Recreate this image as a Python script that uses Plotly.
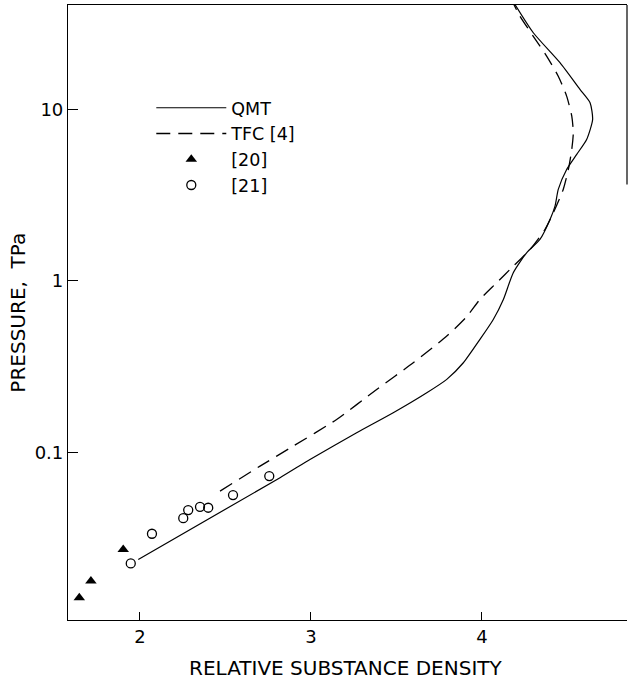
import plotly.graph_objects as go

# QMT (solid)
qmt_x = [1.990, 2.819, 2.994, 3.267, 3.481, 3.677, 3.794, 3.891, 3.988, 4.066, 4.125,
         4.183, 4.261, 4.339, 4.398, 4.427, 4.446, 4.495, 4.554, 4.612, 4.647, 4.632,
         4.573, 4.456, 4.300, 4.193]
qmt_p = [0.02377, 0.0712, 0.0910, 0.1303, 0.1704, 0.2228, 0.2667, 0.3334, 0.456, 0.596, 0.780,
         1.116, 1.460, 1.746, 2.284, 2.729, 3.417, 4.467, 5.47, 6.68, 8.745, 10.94,
         13.08, 18.72, 28.0, 40.9]

# TFC [4] (dashed)
tfc_x = [2.468, 2.702, 2.896, 3.150, 3.384, 3.598, 3.794, 3.911, 3.988, 4.086, 4.183,
         4.281, 4.368, 4.417, 4.475, 4.505, 4.525, 4.534, 4.525, 4.495, 4.446, 4.378,
         4.300, 4.222, 4.181]
tfc_p = [0.0595, 0.0832, 0.1089, 0.1557, 0.2330, 0.3334, 0.4768, 0.620, 0.780, 0.976, 1.220,
         1.526, 1.996, 2.498, 3.417, 4.467, 5.85, 7.31, 9.14, 11.96, 15.63, 20.47,
         26.7, 35.0, 42.0]

# [20] filled triangles
ref20_x = [1.645, 1.713, 1.902]
ref20_p = [0.01422, 0.01778, 0.02718]

# [21] open circles
ref21_x = [1.946, 2.070, 2.253, 2.282, 2.351, 2.399, 2.544, 2.756]
ref21_p = [0.02254, 0.03357, 0.0414, 0.0461, 0.0482, 0.0476, 0.0564, 0.0728]

x_ticks = [2, 3, 4]
x_ticktext = ["2", "3", "4"]
y_ticks = [0.1, 1, 10]
y_ticktext = ["0.1", "1", "10"]

FONT = "DejaVu Sans, Liberation Sans, Arial, sans-serif"

fig = go.Figure()
fig.add_trace(go.Scatter(x=qmt_x, y=qmt_p, mode="lines", name="QMT",
                         line=dict(color="black", width=1.2, shape="spline", smoothing=0.6)))
fig.add_trace(go.Scatter(x=tfc_x, y=tfc_p, mode="lines", name="TFC [4]",
                         line=dict(color="black", width=1.3, dash="14px,8px", shape="spline", smoothing=0.6)))
fig.add_trace(go.Scatter(x=ref20_x, y=ref20_p, mode="markers", name="[20]",
                         marker=dict(symbol="triangle-up", size=10, color="black")))
fig.add_trace(go.Scatter(x=ref21_x, y=ref21_p, mode="markers", name="[21]",
                         marker=dict(symbol="circle-open", size=9, color="black",
                                     line=dict(width=1.3, color="black"))))

fig.update_layout(
    width=630, height=684,
    margin=dict(l=68, r=3, t=5, b=64),
    paper_bgcolor="white", plot_bgcolor="white",
    font=dict(family=FONT, size=18, color="black"),
    showlegend=True,
    legend=dict(x=0.149, y=0.862, xanchor="left", yanchor="top",
                bgcolor="rgba(0,0,0,0)", itemwidth=70,
                font=dict(size=17.5, family=FONT), tracegroupgap=0),
    xaxis=dict(range=[1.579, 4.848], showgrid=False, zeroline=False,
               showline=True, linecolor="black", linewidth=1.2, mirror=True,
               ticks="inside", ticklen=8, tickwidth=1.2, tickcolor="black",
               tickvals=x_ticks, ticktext=x_ticktext,
               tickfont=dict(size=18, family=FONT)),
    yaxis=dict(type="log", range=[-1.977, 1.609], showgrid=False, zeroline=False,
               showline=True, linecolor="black", linewidth=1.2,
               ticks="inside", ticklen=10, tickwidth=1.2, tickcolor="black",
               tickvals=y_ticks, ticktext=y_ticktext,
               tickfont=dict(size=18, family=FONT)),
    annotations=[
        dict(text="RELATIVE SUBSTANCE DENSITY", xref="paper", yref="paper",
             x=0.498, y=-0.1, xanchor="center", yanchor="bottom", showarrow=False,
             font=dict(size=20, family=FONT)),
        dict(text="PRESSURE,  TPa", xref="paper", yref="paper", textangle=-90,
             x=-0.091, y=0.5, xanchor="center", yanchor="middle", showarrow=False,
             font=dict(size=20, family=FONT)),
    ],
    shapes=[dict(type="line", xref="paper", yref="paper", x0=1, x1=1, y0=0.708, y1=1,
                 line=dict(color="black", width=1.2))],
)

fig.write_html("out.html", config={"displayModeBar": False},
               post_script="document.body.style.margin='0';")
